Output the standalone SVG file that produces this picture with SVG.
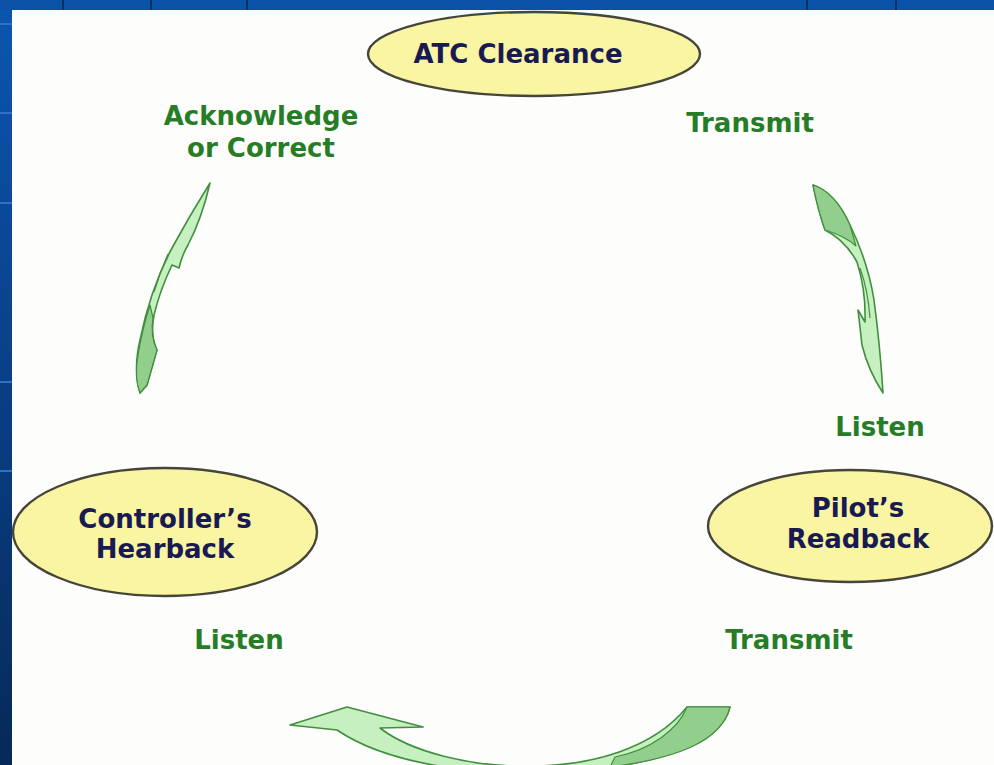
<svg xmlns="http://www.w3.org/2000/svg" width="994" height="765" viewBox="0 0 994 765">
<defs>
<linearGradient id="bgL" x1="0" y1="0" x2="0" y2="1">
<stop offset="0" stop-color="#0b56b0"/>
<stop offset="0.5" stop-color="#0a3f86"/>
<stop offset="1" stop-color="#062a58"/>
</linearGradient>
</defs>
<style>
.node{fill:#f9f5a2;stroke:#45453a;stroke-width:2.4}
.nlab{font-family:"DejaVu Sans",Verdana,sans-serif;font-weight:bold;font-size:26px;fill:#1a1a52;text-anchor:middle}
.glab{font-family:"DejaVu Sans",Verdana,sans-serif;font-weight:bold;font-size:26px;fill:#267d26;text-anchor:middle}
.arr{fill:#c6f0bf;stroke:#3f8f3f;stroke-width:1.6;stroke-linejoin:round}
.dark{fill:#92cf8c;stroke:#3f8f3f;stroke-width:1.2;stroke-linejoin:round}
.band{stroke:#2f72c4;stroke-width:2}
.vl{stroke:#062f66;stroke-width:2}
</style>
<!-- background -->
<rect x="0" y="0" width="994" height="765" fill="url(#bgL)"/>
<rect x="0" y="0" width="994" height="10" fill="#0a52a8"/>
<g class="vl">
<line x1="63" y1="0" x2="63" y2="10"/>
<line x1="151" y1="0" x2="151" y2="10"/>
<line x1="247" y1="0" x2="247" y2="10"/>
<line x1="807" y1="0" x2="807" y2="10"/>
<line x1="896" y1="0" x2="896" y2="10"/>
</g>
<g class="band">
<line x1="0" y1="24" x2="12" y2="24"/>
<line x1="0" y1="113" x2="12" y2="113"/>
<line x1="0" y1="203" x2="12" y2="203"/>
<line x1="0" y1="382" x2="12" y2="382"/>
<line x1="0" y1="471" x2="12" y2="471"/>
</g>
<rect x="12" y="10" width="982" height="755" fill="#fdfdfc"/>

<g id="connectors">
<g id="arrow-acknowledge">
<path class="arr" d="M210,183 Q190,215 172,248 Q150,290 140,340 Q133,370 140,393 L147,385 L157,350 Q150,335 154,315 Q160,290 172,265 L179,268 Q182,255 188,245 Q202,218 210,183 Z"/>
<path class="dark" d="M150,305 Q142,330 138,355 Q134,378 140,393 L147,385 L157,350 Q150,335 153,318 Z"/>
<path d="M168,254 Q160,272 154,292" fill="none" stroke="#3f8f3f" stroke-width="1.2"/>
</g>
<g id="arrow-transmit">
<path class="arr" d="M813,185 Q835,192 850,225 Q868,262 874,300 Q880,345 883,393 Q868,370 862,345 L858,310 L865,322 Q866,290 857,262 Q845,240 825,230 Q818,210 813,185 Z"/>
<path class="dark" d="M813,185 Q835,192 850,225 L856,246 Q845,236 825,230 Q818,210 813,185 Z"/>
<path d="M860,268 Q868,290 870,318" fill="none" stroke="#3f8f3f" stroke-width="1.2"/>
</g>
<g id="arrow-bottom">
<path class="arr" d="M290,725 L347,707 L423,727 L380,728 C440,775 620,790 687,707 L730,707 C715,780 440,800 337,730 Z"/>
<path class="dark" d="M687,707 L730,707 C722,740 680,758 610,767 L615,757 C650,750 678,730 687,707 Z"/>
</g>
</g>

<g id="node-atc">
<ellipse class="node" cx="534" cy="54" rx="166" ry="42"/>
<text class="nlab" x="518" y="63">ATC Clearance</text>
</g>
<g id="node-pilot">
<ellipse class="node" cx="850" cy="526" rx="142" ry="56"/>
<text class="nlab" x="858" y="517">Pilot’s</text>
<text class="nlab" x="858" y="548">Readback</text>
</g>
<g id="node-controller">
<ellipse class="node" cx="165" cy="532" rx="152" ry="64"/>
<text class="nlab" x="165" y="528">Controller’s</text>
<text class="nlab" x="165" y="558">Hearback</text>
</g>

<g id="labels">
<text class="glab" x="261" y="125">Acknowledge</text>
<text class="glab" x="261" y="157">or Correct</text>
<text class="glab" x="750" y="132">Transmit</text>
<text class="glab" x="880" y="436">Listen</text>
<text class="glab" x="239" y="649">Listen</text>
<text class="glab" x="789" y="649">Transmit</text>
</g>
</svg>
